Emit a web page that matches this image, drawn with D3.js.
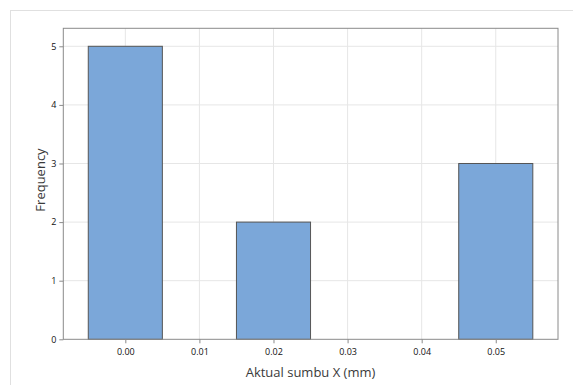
<!DOCTYPE html>
<html><head><meta charset="utf-8">
<script src="https://cdn.jsdelivr.net/npm/d3@7/dist/d3.min.js"></script>
<style>body{margin:0;background:#fff}svg{display:block}</style>
</head><body>
<svg id="c" width="573" height="385"></svg>
<script>
const binCenters = [0.00, 0.02, 0.05];
const frequencies = [5, 2, 3];
const xTicks = [0.00, 0.01, 0.02, 0.03, 0.04, 0.05];
const yTicks = [0, 1, 2, 3, 4, 5];
const binWidth = 0.01;

const svg = d3.select("#c");
const font = "'Open Sans', 'Noto Sans', sans-serif";
const L = 63.3, R = 558, T = 28.3, B = 339.3;

svg.append("rect").attr("x", 10.5).attr("y", 10.5).attr("width", 600).attr("height", 400)
  .attr("fill", "none").attr("stroke", "#e0e0e0");

const x = d3.scaleLinear().domain([-0.00837, 0.0584]).range([L, R]);
const y = d3.scaleLinear().domain([0, 5.307]).range([B, T]);

const g = svg.append("g");
g.selectAll(".gx").data(xTicks).join("line")
  .attr("x1", d => x(d)).attr("x2", d => x(d)).attr("y1", T).attr("y2", B)
  .attr("stroke", "#e6e6e6").attr("stroke-width", 1);
g.selectAll(".gy").data(yTicks.filter(d => d > 0)).join("line")
  .attr("x1", L).attr("x2", R).attr("y1", d => y(d)).attr("y2", d => y(d))
  .attr("stroke", "#e6e6e6").attr("stroke-width", 1);

g.selectAll(".bar").data(binCenters).join("rect")
  .attr("x", d => x(d - binWidth / 2))
  .attr("width", d => x(d + binWidth / 2) - x(d - binWidth / 2))
  .attr("y", (d, i) => y(frequencies[i]))
  .attr("height", (d, i) => y(0) - y(frequencies[i]))
  .attr("fill", "#7ba7d9").attr("stroke", "#555").attr("stroke-width", 1);

svg.append("rect").attr("x", L).attr("y", T).attr("width", R - L).attr("height", B - T)
  .attr("fill", "none").attr("stroke", "#8a8a8a").attr("stroke-width", 1);

const xAxis = svg.append("g").attr("transform", `translate(0,${B})`)
  .call(d3.axisBottom(x).tickValues(xTicks).tickFormat(d3.format(".2f")).tickSize(4).tickPadding(5));
const yAxis = svg.append("g").attr("transform", `translate(${L},0)`)
  .call(d3.axisLeft(y).tickValues(yTicks).tickFormat(d3.format("d")).tickSize(4).tickPadding(3));
[xAxis, yAxis].forEach(a => {
  a.select(".domain").remove();
  a.selectAll(".tick line").attr("stroke", "#8a8a8a");
  a.selectAll(".tick text").attr("fill", "#111").style("font-family", font).style("font-size", "9px");
});

svg.append("text").attr("x", 310.5).attr("y", 377).attr("text-anchor", "middle")
  .style("font-family", font).style("font-size", "13px").attr("fill", "#3a3a3a")
  .text("Aktual sumbu X (mm)");
svg.append("text").attr("transform", `translate(44.5,180) rotate(-90)`)
  .attr("text-anchor", "middle")
  .style("font-family", font).style("font-size", "13px").attr("fill", "#3a3a3a")
  .text("Frequency");
</script>
</body></html>
